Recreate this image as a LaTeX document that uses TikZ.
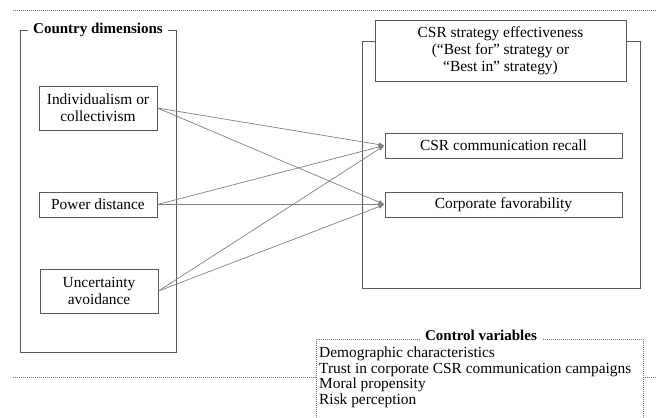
\documentclass[tikz,border=0pt]{standalone}
\usepackage{fontspec}
\setmainfont{Liberation Serif}
\usetikzlibrary{arrows.meta}
\begin{document}
\begin{tikzpicture}[x=1pt,y=-1pt,
  box/.style={draw=black!65, line width=0.9pt, inner sep=0pt, align=center, font=\fontsize{15.4}{18}\selectfont},
  grp/.style={draw=black!65, line width=0.9pt, inner sep=0pt},
  ttl/.style={fill=white, font=\fontsize{15}{18}\selectfont\bfseries, inner sep=1pt, inner xsep=5pt},
  link/.style={draw=black!50, line width=0.7pt, -{Latex[length=6pt,width=4.5pt]}},
  dotl/.style={draw=black!55, line width=0.6pt, dash pattern=on 1pt off 1pt}]
\useasboundingbox (0,0) rectangle (657,418);
% dotted separators
\coordinate (tl) at (13,10); \coordinate (tr) at (657,10);
\draw[dotl] (tl) -- (tr);
\coordinate (bl) at (13,377); \coordinate (bm) at (316,377);
\coordinate (bm2) at (643,377); \coordinate (br) at (657,377);
\draw[dotl] (bl) -- (bm);
\draw[dotl] (bm2) -- (br);
% left group
\node[grp, minimum width=156pt, minimum height=322pt] (cd) at (98,191) {};
\node[ttl] (cdt) at (98,30) {Country dimensions};
\node[box, minimum width=118pt, minimum height=44pt] (ind) at (98,108) {Individualism or\\[-1pt]collectivism};
\node[box, minimum width=118pt, minimum height=25pt] (pd) at (98,204.5) {Power distance};
\node[box, minimum width=118pt, minimum height=44pt] (ua) at (99,291) {Uncertainty\\[-1pt]avoidance};
% right group
\node[grp, minimum width=278pt, minimum height=247pt] (out) at (501,164.5) {};
\node[box, fill=white, minimum width=251pt, minimum height=61pt] (csr) at (500.5,50.5) {CSR strategy effectiveness\\[-1pt](``Best for'' strategy or\\[-1pt]``Best in'' strategy)};
\node[box, minimum width=237pt, minimum height=25pt] (rec) at (503.5,145.5) {CSR communication recall};
\node[box, minimum width=237pt, minimum height=25pt] (fav) at (503.5,204.5) {Corporate favorability};
% arrows
\draw[link] (ind.east) -- (rec.west);
\draw[link] (ind.east) -- (fav.west);
\draw[link] (pd.east) -- (rec.west);
\draw[link] (pd.east) -- (fav.west);
\draw[link] (ua.east) -- (rec.west);
\draw[link] (ua.east) -- (fav.west);
% control variables
\coordinate (c1) at (316,420); \coordinate (c2) at (316,339);
\coordinate (c3) at (643,339); \coordinate (c4) at (643,420);
\draw[dotl] (c1) -- (c2) -- (c3) -- (c4);
\node[ttl, inner ysep=0pt] (cvt) at (481,335) {Control variables};
\node[anchor=north west, align=left, inner sep=0pt, font=\fontsize{15.4}{15.8}\selectfont] (cvl) at (319,346.5)
 {Demographic characteristics\\Trust in corporate CSR communication campaigns\\Moral propensity\\Risk perception};
\end{tikzpicture}
\end{document}
